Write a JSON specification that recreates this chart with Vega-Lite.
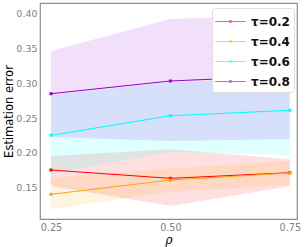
{
  "$schema": "https://vega.github.io/schema/vega-lite/v6.json",
  "width": 257,
  "height": 216,
  "autosize": "none",
  "padding": {"left": 40, "top": 3, "right": 8, "bottom": 28},
  "config": {
    "view": {"stroke": "#8c8c8c", "strokeWidth": 1.2},
    "font": "DejaVu Sans"
  },
  "data": {
    "values": [
      {"rho": 0.25, "tau": "τ=0.2", "mean": 0.1755, "lo": 0.1524, "hi": 0.1956},
      {"rho": 0.50, "tau": "τ=0.2", "mean": 0.1635, "lo": 0.1237, "hi": 0.2052},
      {"rho": 0.75, "tau": "τ=0.2", "mean": 0.1716, "lo": 0.1520, "hi": 0.1909},
      {"rho": 0.25, "tau": "τ=0.4", "mean": 0.1405, "lo": 0.1189, "hi": 0.1644},
      {"rho": 0.50, "tau": "τ=0.4", "mean": 0.1611, "lo": 0.1443, "hi": 0.1778},
      {"rho": 0.75, "tau": "τ=0.4", "mean": 0.1712, "lo": 0.1539, "hi": 0.1889},
      {"rho": 0.25, "tau": "τ=0.6", "mean": 0.2254, "lo": 0.1697, "hi": 0.2830},
      {"rho": 0.50, "tau": "τ=0.6", "mean": 0.2536, "lo": 0.2010, "hi": 0.3010},
      {"rho": 0.75, "tau": "τ=0.6", "mean": 0.2614, "lo": 0.1971, "hi": 0.3090},
      {"rho": 0.25, "tau": "τ=0.8", "mean": 0.2853, "lo": 0.2230, "hi": 0.3467},
      {"rho": 0.50, "tau": "τ=0.8", "mean": 0.3036, "lo": 0.2172, "hi": 0.3928},
      {"rho": 0.75, "tau": "τ=0.8", "mean": 0.3110, "lo": 0.2201, "hi": 0.3986}
    ]
  },
  "layer": [
    {
      "mark": {"type": "area", "opacity": 0.12},
      "encoding": {
        "x": {"field": "rho", "type": "quantitative"},
        "y": {"field": "lo", "type": "quantitative"},
        "y2": {"field": "hi"},
        "color": {"field": "tau", "type": "nominal"}
      }
    },
    {
      "mark": {"type": "line", "strokeWidth": 1},
      "encoding": {
        "x": {"field": "rho", "type": "quantitative"},
        "y": {"field": "mean", "type": "quantitative"},
        "color": {"field": "tau", "type": "nominal"}
      }
    },
    {
      "mark": {"type": "point", "shape": "square", "filled": true, "size": 9, "opacity": 1},
      "encoding": {
        "x": {
          "field": "rho", "type": "quantitative",
          "scale": {"domain": [0.227, 0.765], "nice": false, "zero": false},
          "axis": {
            "values": [0.25, 0.5, 0.75], "format": ".2f", "grid": false, "ticks": false,
            "domain": false, "labelColor": "#7f7f7f", "labelFontSize": 9.7, "labelPadding": 3,
            "title": "ρ", "titleFontStyle": "italic", "titleFontWeight": "normal", "titleFontSize": 12,
            "titleFont": "DejaVu Serif", "titlePadding": 3, "titleColor": "#000"
          }
        },
        "y": {
          "field": "mean", "type": "quantitative",
          "scale": {"domain": [0.105, 0.4158], "nice": false, "zero": false},
          "axis": {
            "values": [0.15, 0.2, 0.25, 0.3, 0.35, 0.4], "format": ".2f", "grid": false, "ticks": false,
            "domain": false, "labelColor": "#7f7f7f", "labelFontSize": 9.5, "labelPadding": 3,
            "title": "Estimation error", "titleFontWeight": "normal", "titleFontSize": 11.5,
            "titlePadding": 1, "titleColor": "#000"
          }
        },
        "color": {
          "field": "tau", "type": "nominal",
          "scale": {
            "domain": ["τ=0.2", "τ=0.4", "τ=0.6", "τ=0.8"],
            "range": ["#ff0000", "#ffa500", "#00ffff", "#9400d3"]
          },
          "legend": {
            "title": null, "orient": "none", "legendX": 172, "legendY": 5,
            "fillColor": "white", "strokeColor": "#dddddd", "cornerRadius": 3,
            "padding": 4, "rowPadding": 4,
            "symbolType": "M-1.7,0H1.7M-0.1,-0.1H0.1V0.1H-0.1Z", "symbolSize": 324,
            "symbolStrokeWidth": 1, "symbolOpacity": 0.6, "symbolOffset": 5,
            "labelFontSize": 12, "labelFontWeight": "bold", "labelFont": "DejaVu Sans",
            "labelColor": "#111", "labelOffset": 11,
            "encode": {"symbols": {"update": {"fill": {"scale": "color", "field": "value"}, "stroke": {"scale": "color", "field": "value"}}}}
          }
        }
      }
    }
  ]
}
